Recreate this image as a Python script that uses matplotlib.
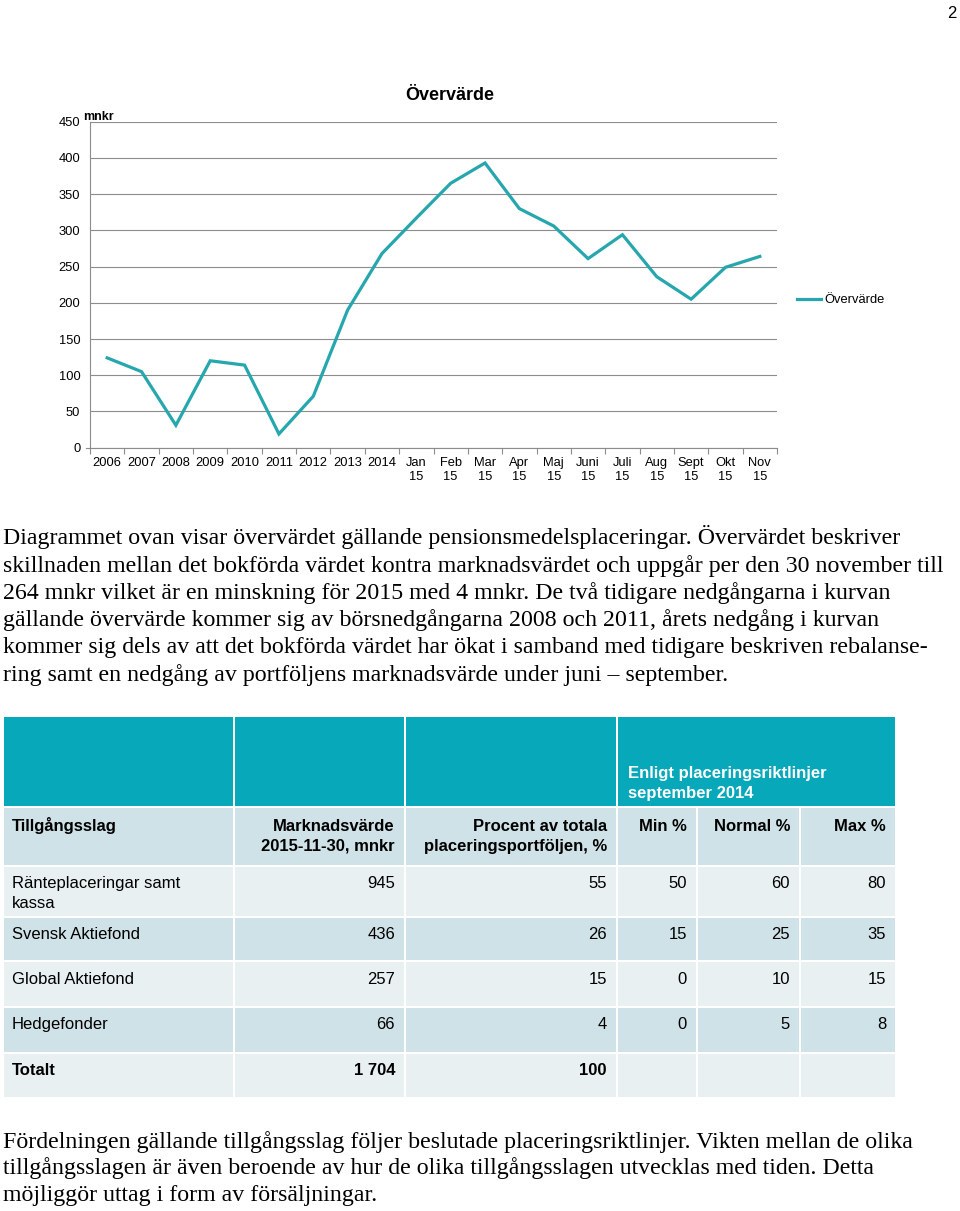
import matplotlib.pyplot as plt
from matplotlib.patches import Rectangle

SANS = 'Liberation Sans'
SERIF = 'Liberation Serif'
plt.rcParams['font.family'] = SANS

# chart data
periods = ['2006', '2007', '2008', '2009', '2010', '2011', '2012', '2013', '2014',
           'Jan\n15', 'Feb\n15', 'Mar\n15', 'Apr\n15', 'Maj\n15', 'Juni\n15',
           'Juli\n15', 'Aug\n15', 'Sept\n15', 'Okt\n15', 'Nov\n15']
overvarde = [124, 105, 31, 120, 114, 19, 71, 190, 268,
             317, 365, 393, 330, 306, 261, 294, 236, 205, 249, 264]
y_ticks = [0, 50, 100, 150, 200, 250, 300, 350, 400, 450]

# table data
col_headers = ['Tillgångsslag', 'Marknadsvärde\n2015-11-30, mnkr',
               'Procent av totala\nplaceringsportföljen, %', 'Min %', 'Normal %', 'Max %']
group_header = 'Enligt placeringsriktlinjer\nseptember 2014'
asset_classes = ['Ränteplaceringar samt\nkassa', 'Svensk Aktiefond', 'Global Aktiefond',
                 'Hedgefonder', 'Totalt']
market_value = ['945', '436', '257', '66', '1 704']
share_pct = ['55', '26', '15', '4', '100']
min_pct = ['50', '15', '0', '0', '']
normal_pct = ['60', '25', '10', '5', '']
max_pct = ['80', '35', '15', '8', '']

para1 = [
    'Diagrammet ovan visar övervärdet gällande pensionsmedelsplaceringar. Övervärdet beskriver',
    'skillnaden mellan det bokförda värdet kontra marknadsvärdet och uppgår per den 30 november till',
    '264 mnkr vilket är en minskning för 2015 med 4 mnkr. De två tidigare nedgångarna i kurvan',
    'gällande övervärde kommer sig av börsnedgångarna 2008 och 2011, årets nedgång i kurvan',
    'kommer sig dels av att det bokförda värdet har ökat i samband med tidigare beskriven rebalanse-',
    'ring samt en nedgång av portföljens marknadsvärde under juni – september.',
]
para2 = [
    'Fördelningen gällande tillgångsslag följer beslutade placeringsriktlinjer. Vikten mellan de olika',
    'tillgångsslagen är även beroende av hur de olika tillgångsslagen utvecklas med tiden. Detta',
    'möjliggör uttag i form av försäljningar.',
]

W, H = 960, 1211
fig = plt.figure(figsize=(W / 100, H / 100), dpi=100)
fig.patch.set_facecolor('white')

# page axes in pixel coordinates (y downwards)
page = fig.add_axes([0, 0, 1, 1])
page.set_xlim(0, W)
page.set_ylim(H, 0)
page.axis('off')

# --- line chart ---
x0, x1, ytop, ybot = 90, 777, 121.7, 447.7
ax = fig.add_axes([x0 / W, 1 - ybot / H, (x1 - x0) / W, (ybot - ytop) / H])
xs = list(range(len(periods)))
line_col = '#26a6ad'
ax.plot(xs, overvarde, color=line_col, lw=2.3, label='Övervärde', solid_joinstyle='miter')
ax.set_xlim(-0.5, len(periods) - 0.5)
ax.set_ylim(0, 450)
ax.set_yticks(y_ticks)
ax.set_xticks(xs)
ax.set_xticklabels(periods, fontsize=9.3, linespacing=1.15)
ax.set_xticks([i - 0.5 for i in range(len(periods) + 1)], minor=True)
ax.tick_params(axis='x', which='major', length=0, pad=7)
ax.tick_params(axis='x', which='minor', length=4, color='#8c8c8c', width=0.8)
ax.tick_params(axis='y', length=0, pad=7, labelsize=9.3)
ax.grid(axis='y', color='#8c8c8c', lw=0.8)
ax.set_axisbelow(True)
for s in ['top', 'right']:
    ax.spines[s].set_visible(False)
for s in ['left', 'bottom']:
    ax.spines[s].set_color('#8c8c8c')
    ax.spines[s].set_linewidth(0.8)
ax.plot([-0.006, 0], [0, 0], transform=ax.transAxes, color='#8c8c8c', lw=0.8, clip_on=False)
ax.legend(loc='center left', bbox_to_anchor=(1.029, 0.453), frameon=False, fontsize=9.3,
          handlelength=1.85, handletextpad=0.3, borderpad=0, borderaxespad=0)

page.text(450, 95, 'Övervärde', fontsize=13, fontweight='bold', ha='center', va='center')
page.text(83, 120, 'mnkr', fontsize=9, fontweight='bold', ha='left', va='baseline')
page.text(957, 13, '2', fontsize=12, ha='right', va='center')

# --- paragraphs ---
for i, line in enumerate(para1):
    page.text(3, 544.3 + i * 27.3, line, family=SERIF, fontsize=17.2, va='baseline', ha='left')
for i, line in enumerate(para2):
    page.text(3, 1147.7 + i * 26.5, line, family=SERIF, fontsize=17.2, va='baseline', ha='left')

# --- table ---
col_x = [3, 234, 405, 617, 697, 800, 896]
row_y = [716, 807, 866, 917, 961, 1007, 1053, 1098]
teal = '#06a8ba'
dark = '#cfe2e7'
light = '#e8f0f2'
g = 1.0


def cell(c0, c1, r, color):
    page.add_patch(Rectangle((col_x[c0] + g, row_y[r] + g),
                             col_x[c1] - col_x[c0] - 2 * g, row_y[r + 1] - row_y[r] - 2 * g,
                             facecolor=color, edgecolor='none'))


for c in range(3):
    cell(c, c + 1, 0, teal)
cell(3, 6, 0, teal)
row_colors = [dark, light, dark, light, dark, light]
for r in range(1, 7):
    for c in range(6):
        cell(c, c + 1, r, row_colors[r - 1])

for k, ln in enumerate(group_header.split('\n')):
    page.text(col_x[3] + 11, 778.3 + k * 20, ln, color='white', fontsize=12,
              fontweight='bold', va='baseline', ha='left')

pad = 10
for c, hdr in enumerate(col_headers):
    for k, ln in enumerate(hdr.split('\n')):
        if c == 0:
            page.text(col_x[0] + 9, 830.7 + k * 20, ln, fontsize=12, fontweight='bold',
                      va='baseline', ha='left')
        else:
            page.text(col_x[c + 1] - pad, 830.7 + k * 20, ln, fontsize=12, fontweight='bold',
                      va='baseline', ha='right')

baselines = [888.3, 939, 984, 1029.3, 1075]
for r in range(len(asset_classes)):
    wt = 'bold' if r == len(asset_classes) - 1 else 'normal'
    yb = baselines[r]
    for k, ln in enumerate(asset_classes[r].split('\n')):
        page.text(col_x[0] + 9, yb + k * 20, ln, fontsize=12, fontweight=wt,
                  va='baseline', ha='left')
    vals = [market_value[r], share_pct[r], min_pct[r], normal_pct[r], max_pct[r]]
    for c, v in enumerate(vals):
        page.text(col_x[c + 2] - pad, yb, v, fontsize=12, fontweight=wt,
                  va='baseline', ha='right')

fig.savefig('out.png', dpi=100)
